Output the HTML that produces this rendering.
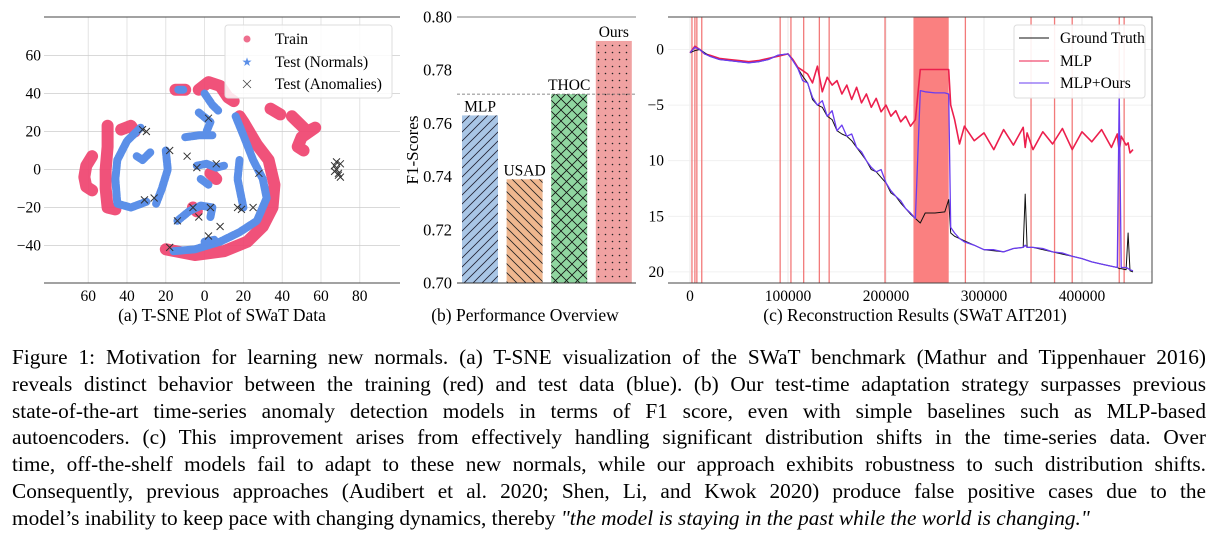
<!DOCTYPE html>
<html><head><meta charset="utf-8"><style>
body{margin:0;width:1216px;height:544px;background:#fff;overflow:hidden;font-family:"Liberation Serif",serif}
#cap{position:absolute;left:12px;top:344px;width:1194px;font-size:21.3px;line-height:26.8px;color:#000}
#cap div{text-align:justify;text-align-last:justify;white-space:nowrap}
#cap div.last{text-align-last:left}
svg text{font-family:"Liberation Serif",serif}
</style></head><body>
<svg id="chart" width="1216" height="335" style="position:absolute;left:0;top:0">
<defs>
<pattern id="pMLP" width="9" height="9" patternUnits="userSpaceOnUse"><rect width="9" height="9" fill="#a9c6e6"/><path d="M0,9L9,0M-2,2L2,-2M7,11L11,7" stroke="#223" stroke-width="0.8"/></pattern>
<pattern id="pUSAD" width="9" height="9" patternUnits="userSpaceOnUse"><rect width="9" height="9" fill="#efb78f"/><path d="M0,0L9,9M-2,7L2,11M7,-2L11,2" stroke="#222" stroke-width="0.8"/></pattern>
<pattern id="pTHOC" width="11" height="11" patternUnits="userSpaceOnUse"><rect width="11" height="11" fill="#90d6a0"/><path d="M0,0L11,11M0,11L11,0" stroke="#111" stroke-width="0.8"/></pattern>
<pattern id="pOurs" width="7" height="7" patternUnits="userSpaceOnUse"><rect width="7" height="7" fill="#f0a2a2"/><circle cx="3.5" cy="3.5" r="0.8" fill="#222"/></pattern>
</defs>
<g id="pa"></g><g id="pb"></g><g id="pc"></g>
</svg>
<div id="cap">
<div>Figure 1: Motivation for learning new normals. (a) T-SNE visualization of the SWaT benchmark (Mathur and Tippenhauer 2016)</div>
<div>reveals distinct behavior between the training (red) and test data (blue). (b) Our test-time adaptation strategy surpasses previous</div>
<div>state-of-the-art time-series anomaly detection models in terms of F1 score, even with simple baselines such as MLP-based</div>
<div>autoencoders. (c) This improvement arises from effectively handling significant distribution shifts in the time-series data. Over</div>
<div>time, off-the-shelf models fail to adapt to these new normals, while our approach exhibits robustness to such distribution shifts.</div>
<div>Consequently, previous approaches (Audibert et al. 2020; Shen, Li, and Kwok 2020) produce false positive cases due to the</div>
<div class="last">model’s inability to keep pace with changing dynamics, thereby <i>"the model is staying in the past while the world is changing."</i></div>
</div>
<script>
// ---------- Panel (a) data ----------
const trainClusters=[
 [[-58,7],[-61,2],[-62,-4],[-61,-9],[-58,-11]],
 [[-50,23],[-50,12],[-51,0],[-51,-10],[-50,-20],[-46,-21]],
 [[-43,21],[-38,23],[-36,20]],
 [[-20,-42],[-5,-45],[10,-43],[22,-38],[30,-30],[35,-20],[36,-8],[33,5],[27,13],[20,25],[18,28]],
 [[-15,42],[-10,42]],
 [[-3,42],[2,46],[8,44],[12,38],[15,36]],
 [[34,32],[39,29]],
 [[45,28],[49,24],[53,20],[57,22],[50,17],[48,12],[51,10]],
 [[3,-2],[6,-5]],[[-6,-20],[-4,-22]]
];
const testClusters=[
 [[-33,22],[-40,15],[-45,5],[-46,-5],[-45,-18],[-38,-20],[-30,-17]],
 [[-20,10],[-19,0],[-22,-10],[-25,-18]],
 [[-28,9],[-32,5],[-35,7]],
 [[-16,-43],[-5,-42],[8,-38],[18,-33],[27,-27],[32,-15],[30,-5],[25,5],[20,18],[16,28]],
 [[18,5],[17,-5],[20,-20]],
 [[-11,42],[-14,42]],
 [[0,40],[4,34],[7,31]],
 [[-3,30],[3,25],[1,20]],
 [[-10,17],[-3,18],[4,18]],
 [[-14,-27],[-8,-22],[-2,-19],[4,-20],[3,-25]],
 [[-4,2],[1,3],[6,1],[10,2]],
 [[-2,-5],[2,-8]],[[5,-37],[0,-38]]
];
const anomX=[-32,-30,-18,-9,-4,2,6,28,17,19,25,-26,-14,-3,-6,2,-18,8,-31,3,67,68,69,70,68,69,67,70];
const anomY=[21,20,10,7,1,27,3,-2,-20,-21,-20,-15,-27,-25,-20,-35,-41,-30,-16,-20,2,0,-2,-4,4,-3,-1,3];
const aTicksX=[-60,-40,-20,0,20,40,60,80], aTickLabX=["60","40","20","0","20","40","60","80"];
const aTicksY=[60,40,20,0,-20,-40], aTickLabY=["60","40","20","0","−20","−40"];
// ---------- Panel (b) data ----------
const models=["MLP","USAD","THOC","Ours"];
const f1=[0.763,0.739,0.771,0.791];
const bTicks=[0.70,0.72,0.74,0.76,0.78,0.80], bTickLab=["0.70","0.72","0.74","0.76","0.78","0.80"];
// ---------- Panel (c) data ----------
const tX=[0,5000,10000,15000,20000,30000,40000,50000,60000,70000,80000,90000,100000,105000,110000,115000,120000,125000,130000,135000,140000,145000,150000,155000,160000,165000,170000,175000,180000,185000,190000,195000,200000,205000,210000,215000,220000,225000,230000,235000,240000,250000,260000,264000,266000,270000,275000,280000,290000,300000,310000,320000,330000,340000,342000,344000,350000,360000,370000,380000,390000,400000,410000,420000,430000,436000,438000,440000,445000,447000,449000,452000];
const gt=[0.3,0.1,0,0.3,0.6,0.9,1.0,1.1,1.2,1.1,0.9,0.5,0.4,1.0,1.7,2.4,3.0,4.5,5.0,5.2,6.0,6.3,7.3,7.6,7.8,8.2,8.8,9.4,10.0,10.8,11.0,11.5,12.0,12.9,13.2,13.8,14.3,14.8,15.2,15.6,14.7,14.7,14.6,13.5,16.5,16.8,17.0,17.2,17.6,18.0,18.1,18.2,17.9,17.8,13.0,17.8,17.8,18.0,18.2,18.4,18.6,18.8,19.1,19.3,19.5,19.6,19.7,19.7,19.8,16.5,19.9,20.0];
const mlp=[0.3,-0.3,0,0.4,0.5,0.8,0.9,1.0,1.1,1.0,0.8,0.6,0.4,0.9,1.6,1.9,2.2,3.0,1.5,3.8,2.5,3.2,2.8,4.0,3.2,4.5,3.4,4.8,4.0,5.2,4.4,5.6,5.0,6.0,5.5,6.5,6.0,6.9,6.3,1.8,1.8,1.8,1.8,1.8,5.0,6.3,8.5,6.9,8.2,7.5,9.0,7.2,8.6,7.0,8.8,7.5,9.0,7.4,8.5,7.1,9.0,7.4,8.3,7.2,8.8,7.6,9.2,7.8,8.6,8.4,9.3,9.0];
const ours=[0.3,-0.2,0,0.4,0.6,0.9,1.0,1.1,1.2,1.1,0.9,0.5,0.4,1.0,1.7,2.8,3.0,4.3,5.0,4.6,6.0,5.5,7.3,6.8,7.8,7.6,8.8,9.2,10.0,10.6,11.0,10.8,12.0,12.7,13.2,13.6,14.3,14.7,15.2,3.7,3.8,3.9,3.9,4.0,16.0,16.5,17.0,17.3,17.6,18.0,18.0,18.2,17.9,17.8,17.6,17.8,17.8,17.9,18.2,18.3,18.6,18.8,19.1,19.3,19.5,19.6,4.0,19.6,19.6,19.7,19.8,19.9];
const anomLines=[2000,5000,7000,12000,92000,103000,116000,132000,142000,199000,281000,348000,372000,390000,438000,443000];
const anomSpan=[228000,264000];
const cTicksX=[0,100000,200000,300000,400000], cTickLabX=["0","100000","200000","300000","400000"];
const cTicksY=[0,5,10,15,20], cTickLabY=["0","−5","10","15","20"];

const NS="http://www.w3.org/2000/svg";
function mk(parent,tag,attrs,text){const e=document.createElementNS(NS,tag);for(const k in attrs)e.setAttribute(k,attrs[k]);if(text!==undefined)e.textContent=text;parent.appendChild(e);return e;}

// ===== Panel a =====
const pa=document.getElementById('pa');


const xa=v=>204.6+1.94*v, ya=v=>169.5-1.9*v;
aTicksX.forEach((t,i)=>{
 const g=mk(pa,'line',{x1:xa(t),x2:xa(t),y1:17,y2:283,stroke:'#ddd','stroke-width':0.8});
 
 
 const l=mk(pa,'text',{x:xa(t),y:301,'font-size':15.5,'text-anchor':'middle'},aTickLabX[i]);
 
 
});
aTicksY.forEach((t,i)=>{
 const g=mk(pa,'line',{x1:44,x2:400,y1:ya(t),y2:ya(t),stroke:'#ccc','stroke-width':0.8});
 
 
 const l=mk(pa,'text',{x:41,y:ya(t)+5,'font-size':15.5,'text-anchor':'end'},aTickLabY[i]);
 
 
});
[17,283].forEach(y=>{const s=mk(pa,'line',{x1:44,x2:400,y1:y,y2:y,stroke:'#444','stroke-width':1});
 
 });
trainClusters.forEach(c=>{
 const p=mk(pa,'polyline',{points:c.map(q=>xa(q[0])+','+ya(q[1])).join(' '),fill:'none',stroke:'#ee3f6c','stroke-width':12,'stroke-linecap':'round','stroke-linejoin':'round','stroke-opacity':0.9});
 
 
});
testClusters.forEach(c=>{
 const p=mk(pa,'polyline',{points:c.map(q=>xa(q[0])+','+ya(q[1])).join(' '),fill:'none',stroke:'#5b8fe8','stroke-width':8,'stroke-linecap':'round','stroke-linejoin':'round','stroke-dasharray':'5 1.5'});
 
 
});
anomX.forEach((x,i)=>{
 const cx=xa(x),cy=ya(anomY[i]);
 const p=mk(pa,'path',{d:`M${cx-3.5},${cy-3.5}L${cx+3.5},${cy+3.5}M${cx-3.5},${cy+3.5}L${cx+3.5},${cy-3.5}`,stroke:'#333','stroke-width':1});
 
 
});
const la=mk(pa,'g',{});


mk(la,'rect',{x:225,y:25,width:167,height:73,fill:'#fff','fill-opacity':0.85,stroke:'#ddd',rx:3});
mk(la,'circle',{cx:247,cy:39,r:3.5,fill:'#ee6f8e'});
mk(la,'text',{x:275,y:44,'font-size':15.5},'Train');
mk(la,'text',{x:247,y:66,'font-size':12,'text-anchor':'middle',fill:'#5b8fe8'},'★');
mk(la,'text',{x:275,y:67,'font-size':15.5},'Test (Normals)');
mk(la,'path',{d:'M243,80L251,88M243,88L251,80',stroke:'#444','stroke-width':0.8});
mk(la,'text',{x:275,y:89,'font-size':15.5},'Test (Anomalies)');
const ta=mk(pa,'text',{x:222,y:321,'font-size':17.5,'text-anchor':'middle'},'(a) T-SNE Plot of SWaT Data');



// ===== Panel b =====
const pb=document.getElementById('pb');


const yb=v=>283-(v-0.70)*2660;
const bx0=462,bstep=44.6,bw=36;
bTicks.forEach((t,i)=>{
 const l=mk(pb,'text',{x:452,y:yb(t)+5.5,'font-size':16.5,'text-anchor':'end'},bTickLab[i]);
 
 
});
const topLine=mk(pb,'line',{x1:457,x2:636,y1:17,y2:17,stroke:'#555','stroke-width':0.8});


const pats=['pMLP','pUSAD','pTHOC','pOurs'];
models.forEach((m,i)=>{
 const x=bx0+i*bstep,y=yb(f1[i]);
 const r=mk(pb,'rect',{x:x,y:y,width:bw,height:283-y,fill:`url(#${pats[i]})`});
 
 
 const t=mk(pb,'text',{x:x+bw/2,y:y-4,'font-size':15.5,'text-anchor':'middle'},m);
 
 
});
const dl=mk(pb,'line',{x1:457,x2:636,y1:yb(f1[2]),y2:yb(f1[2]),stroke:'#666','stroke-width':0.8,'stroke-dasharray':'3 2'});


const botLine=mk(pb,'line',{x1:457,x2:636,y1:283,y2:283,stroke:'#333','stroke-width':1});


const yt=mk(pb,'text',{x:0,y:0,'font-size':17,'text-anchor':'middle',transform:'translate(418,150) rotate(-90)'},'F1-Scores');


const tb=mk(pb,'text',{x:525,y:321,'font-size':17.5,'text-anchor':'middle'},'(b) Performance Overview');



// ===== Panel c =====
const pc=document.getElementById('pc');


const xc=v=>690+v*0.00098, yc=v=>49.5+v*11.12;
cTicksX.forEach((t,i)=>{
 const g=mk(pc,'line',{x1:xc(t),x2:xc(t),y1:17,y2:283,stroke:'#e4e4e4','stroke-width':0.8});
 
 
 const l=mk(pc,'text',{x:xc(t),y:301,'font-size':15.5,'text-anchor':'middle'},cTickLabX[i]);
 
 
});
cTicksY.forEach((t,i)=>{
 const g=mk(pc,'line',{x1:668,x2:1152,y1:yc(t),y2:yc(t),stroke:'#eee','stroke-width':0.8});
 
 
 const l=mk(pc,'text',{x:664,y:yc(t)+5,'font-size':15.5,'text-anchor':'end'},cTickLabY[i]);
 
 
});
const sp=mk(pc,'rect',{x:xc(anomSpan[0]),y:17,width:xc(anomSpan[1])-xc(anomSpan[0]),height:266,fill:'#fa8080'});


anomLines.forEach(a=>{
 const l=mk(pc,'line',{x1:xc(a),x2:xc(a),y1:17,y2:283,stroke:'#f27a7a','stroke-width':1.3});
 
 
});
function series(vals,color,name,w){
 const p=mk(pc,'polyline',{points:tX.map((x,i)=>xc(x).toFixed(1)+','+yc(vals[i]).toFixed(1)).join(' '),fill:'none',stroke:color,'stroke-width':w,'stroke-linejoin':'round'});
 
 
}
series(mlp,'#ec1f4d','mlp-line',1.6);
series(gt,'#111','ground-truth-line',1);
series(ours,'#6a3cf0','mlp-ours-line',1.3);
const fr=mk(pc,'path',{d:'M668,17L1152,17L1152,283L668,283',fill:'none',stroke:'#444','stroke-width':1});


const lc=mk(pc,'g',{});


mk(lc,'rect',{x:1014,y:25,width:131,height:73,fill:'#fff','fill-opacity':0.9,stroke:'#ddd',rx:3});
mk(lc,'line',{x1:1019,x2:1049,y1:38,y2:38,stroke:'#111'});
mk(lc,'text',{x:1060,y:43,'font-size':15.5},'Ground Truth');
mk(lc,'line',{x1:1019,x2:1049,y1:61,y2:61,stroke:'#ec1f4d'});
mk(lc,'text',{x:1060,y:66,'font-size':15.5},'MLP');
mk(lc,'line',{x1:1019,x2:1049,y1:83,y2:83,stroke:'#6a3cf0'});
mk(lc,'text',{x:1060,y:88,'font-size':15.5},'MLP+Ours');
const tc=mk(pc,'text',{x:915,y:321,'font-size':17.5,'text-anchor':'middle'},'(c) Reconstruction Results (SWaT AIT201)');


</script>
</body></html>
